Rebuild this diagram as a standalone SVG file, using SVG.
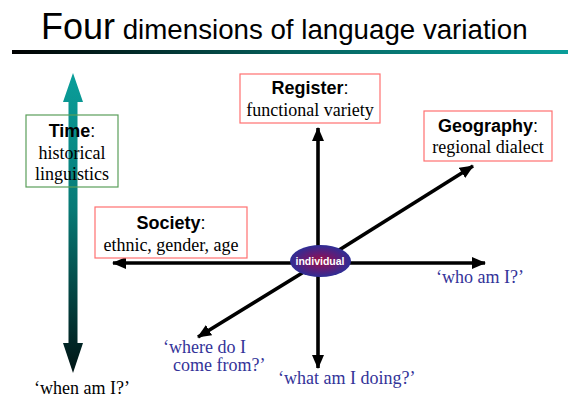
<svg xmlns="http://www.w3.org/2000/svg" width="580" height="406" viewBox="0 0 580 406">
<defs>
<linearGradient id="rule" x1="0" y1="0" x2="1" y2="0">
<stop offset="0" stop-color="#000000"/>
<stop offset="0.5" stop-color="#05605c"/>
<stop offset="1" stop-color="#0a9e9a"/>
</linearGradient>
<linearGradient id="timeg" gradientUnits="userSpaceOnUse" x1="0" y1="73" x2="0" y2="373">
<stop offset="0" stop-color="#0a9e9a"/>
<stop offset="0.45" stop-color="#077a76"/>
<stop offset="1" stop-color="#001414"/>
</linearGradient>
<radialGradient id="indg" cx="0.5" cy="0.5" r="0.5">
<stop offset="0" stop-color="#a01040"/>
<stop offset="0.45" stop-color="#6a1a70"/>
<stop offset="1" stop-color="#2e2e96"/>
</radialGradient>
<marker id="ah" markerWidth="14" markerHeight="12" refX="13" refY="6" orient="auto" markerUnits="userSpaceOnUse">
<path d="M0,0 L14,6 L0,12 Z" fill="#000"/>
</marker>
</defs>
<style>
.box{fill:#fff;stroke:#ff7070;stroke-width:1.2}
.gbox{fill:none;stroke:#5a9e5a;stroke-width:1.2}
.hd{font-family:"Liberation Sans",Arial,sans-serif;font-weight:bold;font-size:18px;fill:#000}
.col{font-weight:normal}
.sub{font-family:"Liberation Serif","Times New Roman",serif;font-size:18px;fill:#000}
.q{font-family:"Liberation Serif","Times New Roman",serif;font-size:18px;fill:#333399}
.ax{stroke:#000;stroke-width:3.6;fill:none;marker-end:url(#ah)}
</style>

<g id="title">
<text x="41" y="39" font-family="Liberation Sans, Arial, sans-serif" font-size="36" fill="#000">Four<tspan font-size="27.7"> dimensions of language variation</tspan></text>
<rect x="12" y="50" width="556" height="4" fill="url(#rule)"/>
</g>

<g id="connectors">
<line class="ax" x1="318" y1="262" x2="318" y2="128"/>
<line class="ax" x1="318" y1="262" x2="318" y2="368"/>
<line class="ax" x1="318" y1="263" x2="113" y2="263"/>
<line class="ax" x1="318" y1="263" x2="485" y2="263"/>
<line class="ax" x1="320" y1="262" x2="473" y2="166"/>
<line class="ax" x1="320" y1="262" x2="198" y2="337"/>
</g>

<g id="time-arrow">
<path d="M73,73 L83,102 L77.5,102 L77.5,343 L83,343 L73,373 L63,343 L68.5,343 L68.5,102 L63,102 Z" fill="url(#timeg)"/>
</g>

<g id="time">
<rect class="gbox" x="26" y="115" width="92" height="72"/>
<text class="hd" x="72" y="137" text-anchor="middle">Time<tspan class="col">:</tspan></text>
<text class="sub" x="72" y="159" text-anchor="middle">historical</text>
<text class="sub" x="72" y="180" text-anchor="middle">linguistics</text>
</g>

<g id="register">
<rect class="box" x="240" y="74" width="140" height="49"/>
<text class="hd" x="310" y="94" text-anchor="middle">Register<tspan class="col">:</tspan></text>
<text class="sub" x="310" y="116" text-anchor="middle">functional variety</text>
</g>

<g id="geography">
<rect class="box" x="424" y="111" width="128" height="50"/>
<text class="hd" x="488" y="132" text-anchor="middle">Geography<tspan class="col">:</tspan></text>
<text class="sub" x="488" y="153" text-anchor="middle">regional dialect</text>
</g>

<g id="society">
<rect class="box" x="95" y="207" width="152" height="51"/>
<text class="hd" x="171" y="229" text-anchor="middle">Society<tspan class="col">:</tspan></text>
<text class="sub" x="171" y="251" text-anchor="middle">ethnic, gender, age</text>
</g>

<g id="individual">
<ellipse cx="320.5" cy="261" rx="30.5" ry="16" fill="url(#indg)"/>
<text x="320" y="265" text-anchor="middle" font-family="Liberation Sans, Arial, sans-serif" font-weight="bold" font-size="10.5" fill="#fff">individual</text>
</g>

<g id="labels">
<text class="sub" x="82" y="394" text-anchor="middle">‘when am I?’</text>
<text class="q" x="436" y="283">‘who am I?’</text>
<text class="q" x="163" y="353">‘where do I</text>
<text class="q" x="173" y="371">come from?’</text>
<text class="q" x="278" y="384">‘what am I doing?’</text>
</g>
</svg>
